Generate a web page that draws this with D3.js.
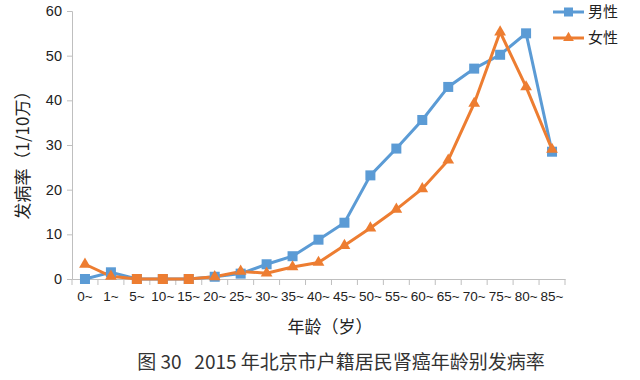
<!DOCTYPE html>
<html><head><meta charset="utf-8">
<script src="https://cdn.jsdelivr.net/npm/d3@7"></script>
<style>body{margin:0;background:#fff}</style>
</head><body>
<svg id="c" width="640" height="380"></svg>
<script>
const categories = ["0~","1~","5~","10~","15~","20~","25~","30~","35~","40~","45~","50~","55~","60~","65~","70~","75~","80~","85~"];
const male =   [0, 1.5, 0, 0, 0, 0.5, 1.2, 3.3, 5.1, 8.8, 12.6, 23.2, 29.2, 35.6, 43.0, 47.1, 50.2, 55.0, 28.5];
const female = [3.3, 0.6, 0, 0, 0, 0.5, 1.7, 1.3, 2.7, 3.7, 7.5, 11.4, 15.6, 20.2, 26.6, 39.3, 55.3, 43.0, 29.0];
const yTicks = [0, 10, 20, 30, 40, 50, 60];
const seriesNames = ["男性", "女性"];
const colors = ["#5B9BD5", "#ED7D31"];

const svg = d3.select("#c");
const x = d3.scaleBand().domain(categories).range([72, 565]);
const y = d3.scaleLinear().domain([0, 60]).range([279, 11]);
const fontNum = "'Liberation Sans', Arial, sans-serif";
const fontCJK = "'Noto Sans CJK SC', sans-serif";

// y axis
const ya = svg.append("g").attr("transform", "translate(72,0)")
  .call(d3.axisLeft(y).tickValues(yTicks).tickSize(5).tickPadding(5));
ya.select(".domain").attr("stroke", "#bfbfbf");
ya.selectAll(".tick line").attr("stroke", "#bfbfbf");
ya.selectAll(".tick text").attr("font-family", fontNum).attr("font-size", 14.5).attr("fill", "#222");

// x axis
const xa = svg.append("g").attr("transform", "translate(0,279)")
  .call(d3.axisBottom(x).tickSize(0).tickPadding(12));
xa.select(".domain").attr("stroke", "#bfbfbf");
xa.selectAll(".tick text").attr("font-family", fontNum).attr("font-size", 13.5).attr("fill", "#222");
const bounds = categories.map(c => x(c)).concat([x.range()[1]]);
svg.append("g").selectAll("line").data(bounds).join("line")
  .attr("x1", d => d).attr("x2", d => d).attr("y1", 279).attr("y2", 285)
  .attr("stroke", "#bfbfbf");

const cx = c => x(c) + x.bandwidth() / 2;
const line = d3.line().x((d, i) => cx(categories[i])).y(d => y(d));

svg.append("path").datum(male).attr("d", line).attr("fill", "none")
  .attr("stroke", colors[0]).attr("stroke-width", 3);
svg.append("path").datum(female).attr("d", line).attr("fill", "none")
  .attr("stroke", colors[1]).attr("stroke-width", 3);

const sq = 10;
svg.append("g").selectAll("rect").data(male).join("rect")
  .attr("x", (d, i) => cx(categories[i]) - sq / 2).attr("y", d => y(d) - sq / 2)
  .attr("width", sq).attr("height", sq).attr("fill", colors[0]);

const tri = d3.symbol().type(d3.symbolTriangle).size(60);
const fg = svg.append("g");
female.forEach((d, i) => {
  const px = cx(categories[i]), py = y(d);
  if (d === 0) {
    fg.append("rect").attr("x", px - 5).attr("y", py - 5).attr("width", 10).attr("height", 10).attr("fill", colors[1]);
  } else {
    fg.append("path").attr("d", tri).attr("transform", `translate(${px},${py})`).attr("fill", colors[1]);
  }
});

// legend
const leg = svg.append("g");
[0, 1].forEach(k => {
  const ly = 12 + k * 26;
  leg.append("line").attr("x1", 553).attr("x2", 584).attr("y1", ly).attr("y2", ly)
    .attr("stroke", colors[k]).attr("stroke-width", 3);
  if (k === 0) leg.append("rect").attr("x", 568.5 - 4.5).attr("y", ly - 4.5).attr("width", 9).attr("height", 9).attr("fill", colors[0]);
  else leg.append("path").attr("d", d3.symbol().type(d3.symbolTriangle).size(50)).attr("transform", `translate(568.5,${ly})`).attr("fill", colors[1]);
  leg.append("text").attr("x", 588).attr("y", ly).attr("dy", "0.35em")
    .attr("font-family", fontCJK).attr("font-size", 15).attr("fill", "#222").text(seriesNames[k]);
});

// axis titles
svg.append("text").attr("x", 330).attr("y", 327).attr("dy", "0.35em").attr("text-anchor", "middle")
  .attr("font-family", fontCJK).attr("font-size", 17).attr("fill", "#222").text("年龄（岁）");
svg.append("text").attr("transform", "translate(23,151) rotate(-90)").attr("text-anchor", "middle").attr("dy", "0.35em")
  .attr("font-family", fontCJK).attr("font-size", 17).attr("fill", "#222").text("发病率（1/10万）");

// caption
svg.append("text").attr("x", 341).attr("y", 362).attr("dy", "0.35em").attr("text-anchor", "middle")
  .attr("font-family", fontCJK).attr("font-size", 19).attr("fill", "#333")
  .attr("xml:space", "preserve").text("图 30   2015 年北京市户籍居民肾癌年龄别发病率");
</script>
</body></html>
